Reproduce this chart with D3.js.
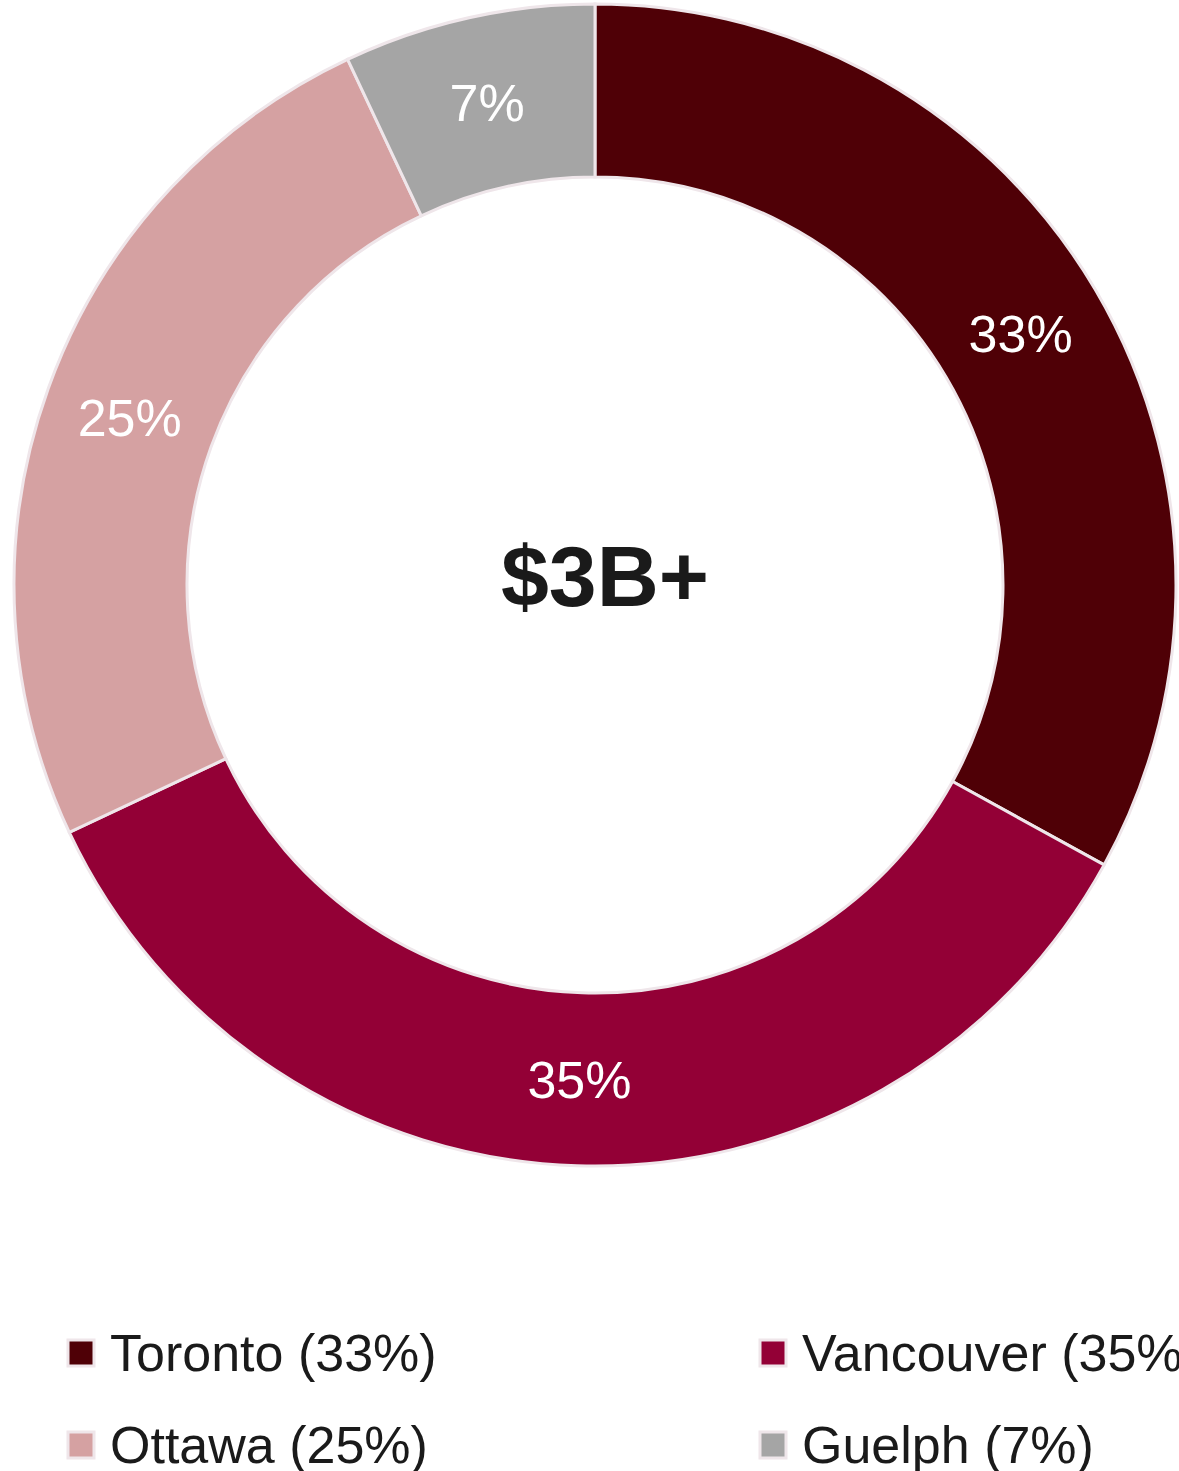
<!DOCTYPE html>
<html>
<head>
<meta charset="utf-8">
<script src="https://cdn.jsdelivr.net/npm/d3@7"></script>
<style>
  body { margin: 0; background: #fff; }
  svg { display: block; }
  text { font-family: "Liberation Sans", Arial, sans-serif; }
</style>
</head>
<body>
<div id="chart"></div>
<script>
// data
var cities = ["Toronto", "Vancouver", "Ottawa", "Guelph"];
var shares = [33, 35, 25, 7];
var colors = ["#4f0006", "#930036", "#d5a1a2", "#a5a5a5"];
var centerLabel = "$3B+";

var width = 1179, height = 1471;
var cx = 595, cy = 585;
var outerR = 581, innerR = 408;

var svg = d3.select("#chart")
    .append("svg")
    .attr("width", width)
    .attr("height", height);

var g = svg.append("g")
    .attr("transform", "translate(" + cx + "," + cy + ")");

var data = cities.map(function(c, i) { return { name: c, value: shares[i], color: colors[i] }; });

var pie = d3.pie()
    .value(function(d) { return d.value; })
    .sort(null);

var arc = d3.arc()
    .innerRadius(innerR)
    .outerRadius(outerR);

var slices = pie(data);

// ring
g.selectAll("path")
    .data(slices)
    .enter()
    .append("path")
    .attr("d", arc)
    .attr("fill", function(d) { return d.data.color; })
    .attr("stroke", "#efe6ea")
    .style("stroke-width", "3px");

// percent labels
g.selectAll("text.pct")
    .data(slices)
    .enter()
    .append("text")
    .attr("class", "pct")
    .attr("x", function(d) { return arc.centroid(d)[0]; })
    .attr("y", function(d) { return arc.centroid(d)[1]; })
    .attr("text-anchor", "middle")
    .attr("dy", "0.36em")
    .attr("fill", "#fff")
    .style("font-size", "52px")
    .text(function(d) { return d.data.value + "%"; });

// center total
g.append("text")
    .attr("x", 10)
    .attr("y", -10)
    .attr("dy", "0.36em")
    .attr("text-anchor", "middle")
    .attr("fill", "#1a1a1a")
    .style("font-size", "86px")
    .style("font-weight", "bold")
    .text(centerLabel);

// legend, two columns
var legend = svg.append("g");
var colX = [68, 760], rowY = [1353, 1445];

var items = legend.selectAll("g")
    .data(data)
    .enter()
    .append("g")
    .attr("transform", function(d, i) {
        return "translate(" + colX[i % 2] + "," + rowY[Math.floor(i / 2)] + ")";
    });

items.append("rect")
    .attr("x", 0)
    .attr("y", -13)
    .attr("width", 26)
    .attr("height", 26)
    .attr("fill", function(d) { return d.color; })
    .attr("stroke", "#efe6ea")
    .style("stroke-width", "3px");

items.append("text")
    .attr("x", 42)
    .attr("y", 0)
    .attr("dy", "0.34em")
    .attr("fill", "#1a1a1a")
    .style("font-size", "52px")
    .text(function(d) { return d.name + " (" + d.value + "%)"; });
</script>
</body>
</html>
